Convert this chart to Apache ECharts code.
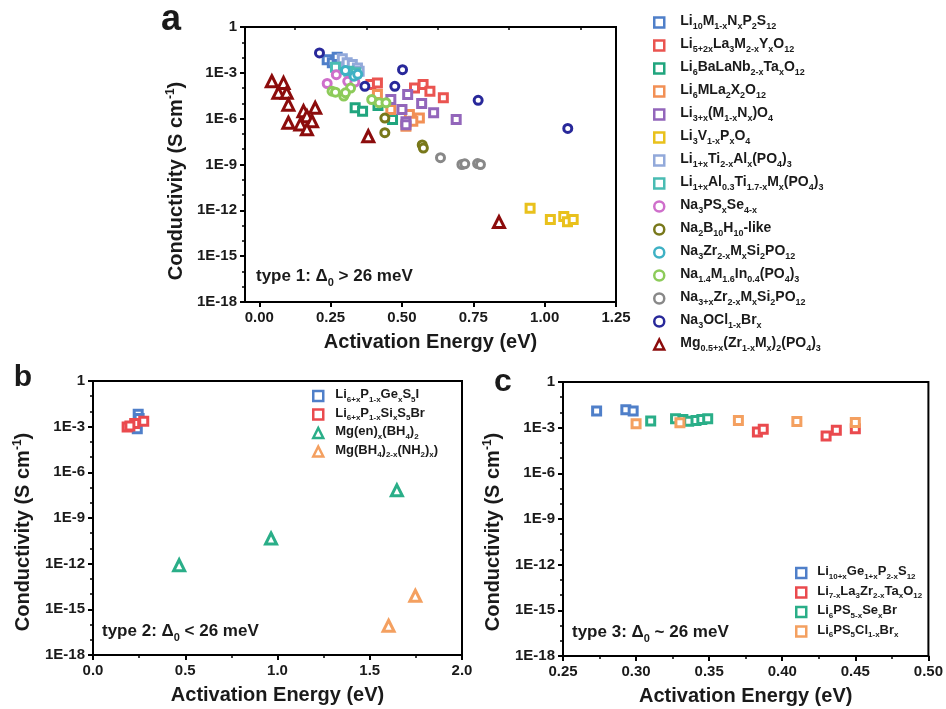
<!DOCTYPE html>
<html><head><meta charset="utf-8">
<script src="https://cdn.jsdelivr.net/npm/echarts@6/dist/echarts.min.js"></script>
<style>html,body{margin:0;padding:0;background:#fff}#c{width:946px;height:709px}</style>
</head><body><div id="c"></div>
<script>
// ---------- Panel a data: [activation energy (eV), conductivity (S/cm)] ----------
const aLi10MNP2S12   = [[0.238,7.2e-3],[0.256,4.5e-3],[0.273,1.05e-2],[0.279,3.5e-3]];
const aLi5LaMYO12    = [[0.391,1.7e-4],[0.414,2.2e-4],[0.544,1.0e-4],[0.574,1.7e-4],[0.598,6.3e-5],[0.645,2.3e-5]];
const aLi6BaLaNbTaO  = [[0.336,5.1e-6],[0.362,3.1e-6],[0.416,7.2e-6],[0.467,8.7e-7]];
const aLi6MLa2X2O12  = [[0.414,3.8e-5],[0.461,4.0e-6],[0.526,1.9e-6],[0.561,1.1e-6],[0.538,6.8e-7],[0.514,3.2e-7]];
const aLi3MNO4       = [[0.461,1.8e-5],[0.520,3.8e-5],[0.569,9.8e-6],[0.500,4.0e-6],[0.611,2.4e-6],[0.690,8.7e-7],[0.514,6.2e-7],[0.514,4.0e-7]];
const aLi3VPO4       = [[0.949,1.35e-12],[1.020,2.5e-13],[1.067,4.0e-13],[1.080,1.8e-13],[1.100,2.5e-13]];
const aLiTiAlPO4     = [[0.291,8.5e-3],[0.308,4.5e-3],[0.326,3.5e-3],[0.344,2.1e-3],[0.350,1.26e-3]];
const aLiAlTiMPO4    = [[0.267,2.3e-3],[0.314,1.26e-3],[0.338,1.0e-3]];
const aNa3PSSe       = [[0.238,2.0e-4],[0.270,7.6e-4],[0.310,2.8e-4],[0.335,2.5e-4]];
const aNa2B10H10     = [[0.440,1.1e-6],[0.440,1.2e-7],[0.571,1.9e-8],[0.575,1.2e-8]];
const aNa3ZrMSiPO    = [[0.302,1.4e-3],[0.332,6.0e-4],[0.345,8.0e-4]];
const aNaMInPO4      = [[0.255,6.3e-5],[0.267,5.4e-5],[0.296,3.0e-5],[0.320,1.0e-4],[0.302,4.9e-5],[0.394,1.8e-5],[0.420,1.1e-5],[0.444,1.1e-5]];
const aNa3xZrMSiPO   = [[0.635,2.8e-9],[0.710,1.0e-9],[0.720,1.1e-9],[0.765,1.15e-9],[0.775,1.0e-9]];
const aNa3OClBr      = [[0.211,2.0e-2],[0.502,1.6e-3],[0.370,1.3e-4],[0.475,1.3e-4],[0.767,1.6e-5],[1.081,2.3e-7]];
const aMgZrMPO4      = [[0.044,2.8e-4],[0.085,2.2e-4],[0.067,4.9e-5],[0.096,4.9e-5],[0.102,8.3e-6],[0.155,3.1e-6],[0.196,5.1e-6],[0.167,1.45e-6],[0.185,6.8e-7],[0.102,5.4e-7],[0.144,4.2e-7],[0.167,2.0e-7],[0.382,7.1e-8],[0.840,1.7e-13]];
// ---------- Panel b data ----------
const bLiPGeS5I      = [[0.245,6.5e-3],[0.240,7.4e-4],[0.250,3.5e-3]];
const bLiPSiS5Br     = [[0.185,9.5e-4],[0.226,1.6e-3],[0.275,2.3e-3],[0.200,1.1e-3]];
const bMgEnBH4       = [[0.467,7.9e-13],[0.965,4.5e-11],[1.647,6.6e-8]];
const bMgBH4NH2      = [[1.747,7.8e-15],[1.602,8.3e-17]];
// ---------- Panel c data ----------
const cLiGePS12      = [[0.273,1.26e-2],[0.293,1.5e-2],[0.298,1.26e-2]];
const cLLZTO         = [[0.383,5.2e-4],[0.387,7.8e-4],[0.430,2.8e-4],[0.437,6.8e-4],[0.450,8.5e-4]];
const cLiPSSeBr      = [[0.310,2.75e-3],[0.327,3.9e-3],[0.332,3.4e-3],[0.336,2.6e-3],[0.341,3.0e-3],[0.345,3.5e-3],[0.349,3.9e-3]];
const cLiPSClBr      = [[0.300,1.8e-3],[0.330,2.1e-3],[0.370,3.0e-3],[0.410,2.5e-3],[0.450,2.2e-3]];
// ---------- Ticks ----------
const aXTicks = [0, 0.25, 0.5, 0.75, 1.0, 1.25];
const aXMinor = [0.125, 0.375, 0.625, 0.875, 1.125];
const yExpMin = -18, yExpMax = 0, yExpStep = 3;

const F = "'Liberation Sans', Arial, Helvetica, sans-serif";
const TXT = '#1a1a1a';

function toRich(s) {
  let out = '', buf = '';
  const flush = () => { if (buf) { out += '{m|' + buf + '}'; buf = ''; } };
  for (let i = 0; i < s.length; i++) {
    const ch = s[i];
    if (ch === '_' || ch === '^') {
      flush();
      let t;
      if (s[i + 1] === '{') { const j = s.indexOf('}', i + 2); t = s.slice(i + 2, j); i = j; }
      else { t = s[i + 1]; i++; }
      out += '{' + (ch === '_' ? 's' : 'p') + '|' + t + '}';
    } else buf += ch;
  }
  flush();
  return out;
}

function sc(name, data, symbol, color, size, xi, yi) {
  return {
    type: 'scatter', name, xAxisIndex: xi, yAxisIndex: yi, symbol, symbolSize: size,
    data: data.map(d => [d[0], Math.log10(d[1])]),
    itemStyle: { color: '#ffffff', borderColor: color, borderWidth: 3, opacity: 1 },
    emphasis: { disabled: true }, animation: false
  };
}

const aSeries = [
  ['Li_{10}M_{1-x}N_xP_2S_{12}', aLi10MNP2S12, 'rect', '#4f7fc9', 8],
  ['Li_{5+2x}La_3M_{2-x}Y_xO_{12}', aLi5LaMYO12, 'rect', '#ea5450', 8],
  ['Li_6BaLaNb_{2-x}Ta_xO_{12}', aLi6BaLaNbTaO, 'rect', '#20a57e', 8],
  ['Li_6MLa_2X_2O_{12}', aLi6MLa2X2O12, 'rect', '#f29055', 8],
  ['Li_{3+x}(M_{1-x}N_x)O_4', aLi3MNO4, 'rect', '#9366bb', 8],
  ['Li_3V_{1-x}P_xO_4', aLi3VPO4, 'rect', '#e9c11c', 8],
  ['Li_{1+x}Ti_{2-x}Al_x(PO_4)_3', aLiTiAlPO4, 'rect', '#92a9da', 8],
  ['Li_{1+x}Al_{0.3}Ti_{1.7-x}M_x(PO_4)_3', aLiAlTiMPO4, 'rect', '#49bcb3', 8],
  ['Na_3PS_xSe_{4-x}', aNa3PSSe, 'circle', '#cf6fcb', 8],
  ['Na_2B_{10}H_{10}-like', aNa2B10H10, 'circle', '#78781a', 8],
  ['Na_3Zr_{2-x}M_xSi_2PO_{12}', aNa3ZrMSiPO, 'circle', '#3eb1c4', 8],
  ['Na_{1.4}M_{1.6}In_{0.4}(PO_4)_3', aNaMInPO4, 'circle', '#8dcb5a', 8],
  ['Na_{3+x}Zr_{2-x}M_xSi_2PO_{12}', aNa3xZrMSiPO, 'circle', '#888888', 8],
  ['Na_3OCl_{1-x}Br_x', aNa3OClBr, 'circle', '#28289a', 8],
  ['Mg_{0.5+x}(Zr_{1-x}M_x)_2(PO_4)_3', aMgZrMPO4, 'triangle', '#8c0c0c', 11]
];
const bSeries = [
  ['Li_{6+x}P_{1-x}Ge_xS_5I', bLiPGeS5I, 'rect', '#4f7fc9', 8],
  ['Li_{6+x}P_{1-x}Si_xS_5Br', bLiPSiS5Br, 'rect', '#ea4a4e', 8],
  ['Mg(en)_x(BH_4)_2', bMgEnBH4, 'triangle', '#2aae88', 11],
  ['Mg(BH_4)_{2-x}(NH_2)_x)', bMgBH4NH2, 'triangle', '#f4a060', 11]
];
const cSeries = [
  ['Li_{10+x}Ge_{1+x}P_{2-x}S_{12}', cLiGePS12, 'rect', '#4f7fc9', 8],
  ['Li_{7-x}La_3Zr_{2-x}Ta_xO_{12}', cLLZTO, 'rect', '#ea4a4e', 8],
  ['Li_6PS_{5-x}Se_xBr', cLiPSSeBr, 'rect', '#2aae88', 8],
  ['Li_6PS_5Cl_{1-x}Br_x', cLiPSClBr, 'rect', '#f4a060', 8]
];

const series = [];
aSeries.forEach(s => series.push(sc(s[0], s[1], s[2], s[3], s[4], 0, 0)));
bSeries.forEach(s => series.push(sc(s[0], s[1], s[2], s[3], s[4], 2, 2)));
cSeries.forEach(s => series.push(sc(s[0], s[1], s[2], s[3], s[4], 3, 4)));

const lineStyleAxis = { color: '#000', width: 2 };
const labelStyle = { fontSize: 15, fontWeight: 'bold', fontFamily: F, color: TXT };
const nameStyle = { fontSize: 20, fontWeight: 'bold', fontFamily: F, color: TXT };

function yMain(gi) {
  return {
    type: 'value', gridIndex: gi, min: yExpMin, max: yExpMax, interval: yExpStep,
    axisLine: { show: true, onZero: false, lineStyle: lineStyleAxis },
    axisTick: { show: true, length: 5, lineStyle: { color: '#000', width: 2 } },
    minorTick: { show: true, splitNumber: 3, length: 3, lineStyle: { color: '#000', width: 1.5 } },
    splitLine: { show: false }, minorSplitLine: { show: false },
    axisLabel: Object.assign({ margin: 8, formatter: v => v === 0 ? '1' : '1E' + v }, labelStyle)
  };
}
function xBase(gi, min, max, extra) {
  return Object.assign({
    type: 'value', gridIndex: gi, min, max, position: 'bottom',
    axisLine: { show: true, onZero: false, lineStyle: lineStyleAxis },
    axisTick: { show: true, length: 5, lineStyle: { color: '#000', width: 2 } },
    splitLine: { show: false }, minorSplitLine: { show: false },
    name: 'Activation Energy (eV)', nameLocation: 'middle', nameGap: 30,
    nameTextStyle: nameStyle
  }, extra);
}

function legendRich(ms, ss) {
  return {
    m: { fontSize: ms, fontWeight: 'bold', fontFamily: F, color: TXT, lineHeight: ms + 3, verticalAlign: 'top' },
    s: { fontSize: ss, fontWeight: 'bold', fontFamily: F, color: TXT, padding: [ms - 6, 0, 0, 0] }
  };
}
function legendFor(list, left, top, gap, ms, ss, padLeft) {
  return {
    orient: 'vertical', left, top, itemWidth: 10, itemHeight: 10, itemGap: gap,
    selectedMode: false, symbolKeepAspect: true,
    formatter: n => toRich(n),
    itemStyle: { borderWidth: 2.5 },
    data: list.map(s => ({ name: s[0], icon: s[2] })),
    textStyle: { fontSize: ms, fontWeight: 'bold', fontFamily: F, color: TXT,
      padding: [0, 0, 0, padLeft], rich: legendRich(ms, ss) }
  };
}

const ytitleRich = {
  m: { fontSize: 20, fontWeight: 'bold', fontFamily: F, fill: TXT, lineHeight: 22 },
  p: { fontSize: 12, fontWeight: 'bold', fontFamily: F, fill: TXT, padding: [0, 0, 10, 0] }
};
const typeRich = {
  m: { fontSize: 17, fontWeight: 'bold', fontFamily: F, fill: TXT, lineHeight: 20, verticalAlign: 'top' },
  s: { fontSize: 11, fontWeight: 'bold', fontFamily: F, fill: TXT, padding: [10, 0, 0, 0] }
};
function gText(x, y, text, size) {
  return { type: 'text', x, y, silent: true,
    style: { text, fontSize: size, fontWeight: 'bold', fontFamily: F, fill: TXT, align: 'center', verticalAlign: 'middle' } };
}
function richText(x, y, text, rich, rotation, align) {
  return { type: 'text', x, y, rotation: rotation || 0, silent: true,
    style: { text: toRich(text), rich, align: align || 'center', verticalAlign: 'middle', fontFamily: F, fontWeight: 'bold' } };
}

const option = {
  animation: false,
  backgroundColor: '#fff',
  grid: [
    { left: 245, top: 27, width: 371, height: 275, show: true, borderColor: '#000', borderWidth: 2 },
    { left: 93, top: 381, width: 369, height: 274, show: true, borderColor: '#000', borderWidth: 2 },
    { left: 563, top: 382, width: 368, height: 274, show: true, borderColor: '#000', borderWidth: 2 }
  ],
  xAxis: [
    xBase(0, -0.05, 1.25, {
      axisLabel: Object.assign({ margin: 8, customValues: aXTicks, formatter: v => v.toFixed(2) }, labelStyle),
      axisTick: { show: true, length: 5, customValues: aXTicks, lineStyle: { color: '#000', width: 2 } }
    }),
    { type: 'value', gridIndex: 0, min: -0.05, max: 1.25, position: 'bottom',
      axisLine: { show: false }, axisLabel: { show: false }, splitLine: { show: false },
      axisTick: { show: true, length: 3, customValues: aXMinor, lineStyle: { color: '#000', width: 1.5 } } },
    xBase(1, 0, 2, {
      interval: 0.5,
      axisLabel: Object.assign({ margin: 8, formatter: v => v.toFixed(1) }, labelStyle),
      minorTick: { show: true, splitNumber: 2, length: 3, lineStyle: { color: '#000', width: 1.5 } }
    }),
    xBase(2, 0.25, 0.5, {
      interval: 0.05,
      axisLabel: Object.assign({ margin: 8, formatter: v => v.toFixed(2) }, labelStyle),
      minorTick: { show: true, splitNumber: 2, length: 3, lineStyle: { color: '#000', width: 1.5 } }
    })
  ],
  yAxis: [yMain(0), { type: 'value', gridIndex: 0, show: false, min: yExpMin, max: yExpMax },
          yMain(1), { type: 'value', gridIndex: 1, show: false, min: yExpMin, max: yExpMax },
          yMain(2)],
  legend: [
    legendFor(aSeries, 648, 9, 6, 14, 9, 11),
    legendFor(bSeries, 307, 383, 3, 13, 8, 7),
    legendFor(cSeries, 790, 560, 4, 13, 8, 6)
  ],
  graphic: [
    gText(171, 20, 'a', 36),
    gText(23, 378, 'b', 30),
    gText(503, 382, 'c', 32),
    richText(176, 181, 'Conductivity (S cm^{-1})', ytitleRich, Math.PI / 2),
    richText(23, 532, 'Conductivity (S cm^{-1})', ytitleRich, Math.PI / 2),
    richText(493, 532, 'Conductivity (S cm^{-1})', ytitleRich, Math.PI / 2),
    richText(256, 278, 'type 1: \u0394_0 > 26 meV', typeRich, 0, 'left'),
    richText(102, 633, 'type 2: \u0394_0 < 26 meV', typeRich, 0, 'left'),
    richText(572, 634, 'type 3: \u0394_0 ~ 26 meV', typeRich, 0, 'left')
  ],
  series
};
const chart = echarts.init(document.getElementById('c'), null, { renderer: 'canvas' });
chart.setOption(option);
</script></body></html>
